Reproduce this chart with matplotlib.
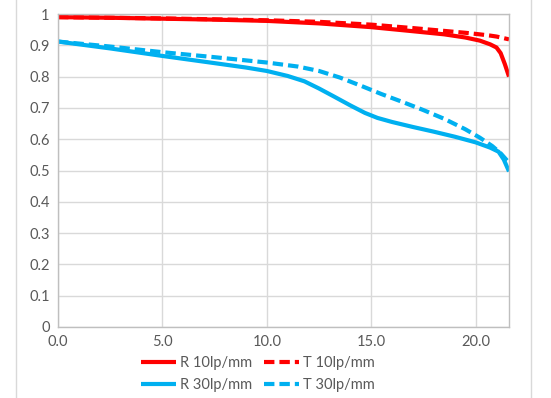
import matplotlib.pyplot as plt
from matplotlib.lines import Line2D
from matplotlib.ticker import FuncFormatter

# 数据 (像高 mm -> MTF)
x_r10 = [0, 2.5, 5, 7.5, 10, 12.5, 15, 17, 18.5, 19.5, 20.2, 20.7, 21.0, 21.2, 21.4, 21.6]
r10 = [0.990, 0.988, 0.985, 0.982, 0.978, 0.970, 0.958, 0.945, 0.935, 0.925,
       0.915, 0.903, 0.893, 0.875, 0.840, 0.800]

x_t10 = [0, 2.5, 5, 7.5, 10, 12.5, 15, 17, 18.5, 19.5, 20.2, 20.7, 21.0, 21.2, 21.4, 21.6]
t10 = [0.990, 0.988, 0.986, 0.983, 0.980, 0.975, 0.966, 0.955, 0.946, 0.940,
       0.935, 0.931, 0.928, 0.925, 0.922, 0.919]

x_r30 = [0, 2.5, 5, 7.5, 9, 10, 11, 11.8, 12.5, 13.2, 14, 14.7, 15.3, 16, 17, 18,
         19, 20, 20.7, 21.1, 21.35, 21.6]
r30 = [0.912, 0.890, 0.866, 0.843, 0.829, 0.818, 0.802, 0.785, 0.762, 0.737, 0.708,
       0.684, 0.668, 0.655, 0.639, 0.624, 0.608, 0.590, 0.573, 0.560, 0.535, 0.497]

x_t30 = [0, 2.5, 5, 7.5, 10, 11.5, 12.5, 13.5, 14.5, 15.5, 16.5, 17.5, 18.5, 19.5,
         20.2, 20.8, 21.2, 21.6]
t30 = [0.912, 0.896, 0.878, 0.862, 0.845, 0.832, 0.818, 0.797, 0.771, 0.744, 0.719,
       0.693, 0.665, 0.632, 0.605, 0.578, 0.555, 0.525]

x_ticks = [0, 5, 10, 15, 20]
y_ticks = [0, 0.1, 0.2, 0.3, 0.4, 0.5, 0.6, 0.7, 0.8, 0.9, 1.0]

plt.rcParams['font.family'] = ['Lato', 'DejaVu Sans']

red = '#FF0000'
blue = '#00B0F0'
grid_c = '#D9D9D9'
text_c = '#595959'

fig = plt.figure(figsize=(5.51, 3.98), dpi=100)
ax = fig.add_axes([58 / 551, 1 - 327 / 398, (509 - 58) / 551, (327 - 14) / 398])

lw = 3
dash = (2.5, 1.2)
l1, = ax.plot(x_r10, r10, color=red, lw=lw, label='R 10lp/mm', solid_capstyle='butt')
l3, = ax.plot(x_t10, t10, color=red, lw=lw, ls=(0, dash), label='T 10lp/mm')
l2, = ax.plot(x_r30, r30, color=blue, lw=lw, label='R 30lp/mm', solid_capstyle='butt')
l4, = ax.plot(x_t30, t30, color=blue, lw=lw, ls=(0, dash), label='T 30lp/mm')

ax.set_xlim(0, 21.6)
ax.set_ylim(0, 1)
ax.set_xticks(x_ticks)
ax.set_yticks(y_ticks)
ax.xaxis.set_major_formatter(FuncFormatter(lambda v, p: f'{v:.1f}'))
ax.yaxis.set_major_formatter(FuncFormatter(lambda v, p: f'{v:g}'))
ax.tick_params(length=0, labelsize=10.5, colors=text_c, pad=6)
ax.grid(True, color=grid_c, lw=1)
ax.set_axisbelow(True)
for s in ax.spines.values():
    s.set_color('#BFBFBF')
    s.set_linewidth(1)

fig.legend(handles=[l1, l2, l3, l4], ncol=2, frameon=False, loc='center',
           bbox_to_anchor=(258 / 551, 1 - 374 / 398), fontsize=10.5,
           handlelength=2.4, handletextpad=0.3, columnspacing=0.8,
           labelspacing=0.6, labelcolor=text_c)

# 外框
for xp in (16, 531):
    fig.add_artist(Line2D([xp / 551, xp / 551], [0, 1], color=grid_c, lw=1))

fig.savefig('out.png', dpi=100)
